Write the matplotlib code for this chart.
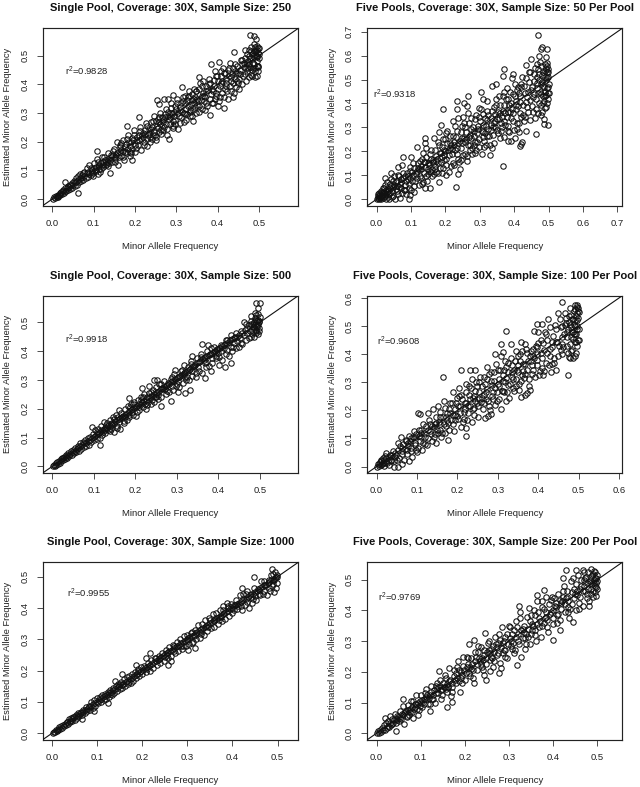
"""Six pooled-sequencing scatter panels: estimated vs true minor allele frequency.

Points are read by eye off the picture. Outliers are placed individually, the dense
bands are estimates of where the cloud sits, not a point-for-point reading.
"""
import matplotlib
matplotlib.use("Agg")
import matplotlib.pyplot as plt

plt.rcParams["font.family"] = ["Liberation Sans", "DejaVu Sans"]
plt.rcParams["mathtext.default"] = "regular"

W, H = 640, 787
TEXT = "#222222"

single_250 = [
    (.479,.571),(.488,.569),(.492,.559),(.440,.511),(.467,.521),(.495,.429),(.491,.424),(.481,.433),(.437,.354),(.440,.368),
    (.415,.319),(.382,.293),(.340,.273),(.254,.346),(.257,.331),(.271,.350),(.280,.347),(.292,.362),(.313,.389),(.355,.427),
    (.384,.470),(.404,.476),(.430,.475),(.209,.285),(.182,.253),(.109,.168),(.139,.092),(.062,.020),(.031,.060),(.282,.208),
    (.252,.206),(.192,.136),(.003,.002),(.005,.008),(.007,.003),(.009,.012),(.011,.006),(.013,.015),(.015,.009),(.018,.020),
    (.020,.013),(.022,.026),(.024,.017),(.027,.031),(.029,.022),(.032,.037),(.034,.027),(.037,.044),(.039,.031),(.042,.050),
    (.044,.035),(.047,.056),(.049,.040),(.052,.063),(.054,.047),(.057,.072),(.059,.050),(.062,.080),(.065,.058),(.067,.088),
    (.070,.062),(.073,.083),(.075,.068),(.078,.095),(.081,.072),(.084,.108),(.087,.078),(.090,.118),(.093,.085),(.096,.102),
    (.099,.092),(.102,.125),(.105,.097),(.108,.140),(.111,.088),(.114,.120),(.117,.105),(.120,.148),(.124,.112),(.128,.135),
    (.131,.118),(.135,.160),(.138,.125),(.142,.148),(.145,.130),(.149,.175),(.152,.138),(.156,.200),(.159,.120),(.163,.165),
    (.166,.150),(.170,.205),(.173,.135),(.177,.180),(.180,.160),(.184,.225),(.187,.150),(.191,.200),(.194,.175),(.198,.240),
    (.201,.165),(.205,.215),(.208,.190),(.212,.250),(.215,.170),(.219,.230),(.222,.200),(.226,.265),(.229,.185),(.233,.245),
    (.236,.215),(.240,.270),(.243,.225),(.247,.290),(.250,.215),(.253,.255),(.257,.235),(.260,.300),(.263,.240),(.267,.275),
    (.270,.250),(.274,.315),(.277,.225),(.281,.290),(.284,.260),(.288,.335),(.291,.255),(.295,.305),(.298,.275),(.302,.350),
    (.305,.245),(.309,.320),(.312,.285),(.316,.340),(.319,.270),(.323,.315),(.326,.295),(.330,.375),(.333,.290),(.337,.345),
    (.340,.310),(.344,.385),(.347,.300),(.351,.350),(.354,.325),(.358,.405),(.361,.315),(.365,.370),(.368,.340),(.372,.395),
    (.375,.325),(.379,.420),(.382,.350),(.386,.385),(.389,.335),(.393,.445),(.396,.360),(.400,.410),(.403,.340),(.407,.430),
    (.410,.370),(.414,.455),(.417,.385),(.421,.420),(.424,.350),(.428,.455),(.431,.395),(.435,.435),(.438,.405),(.442,.470),
    (.445,.390),(.449,.440),(.452,.420),(.456,.485),(.459,.400),(.463,.460),(.466,.435),(.470,.505),(.472,.445),(.475,.470),
    (.477,.425),(.480,.530),(.482,.450),(.484,.490),(.486,.510),(.488,.470),(.490,.530),(.491,.455),(.492,.500),(.494,.520),
    (.495,.480),(.496,.535),(.497,.445),(.498,.510),(.499,.490),(.500,.525),(.497,.465),(.493,.515),(.487,.540),(.483,.505),
]
single_250_band = [
    (.041,.043),(.055,.058),(.063,.066),(.069,.074),(.077,.079),(.083,.092),(.089,.087),(.095,.094),(.101,.108),(.106,.112),
    (.112,.106),(.118,.127),(.123,.120),(.129,.122),(.134,.141),(.140,.136),(.146,.155),(.151,.147),(.157,.162),(.161,.145),
    (.167,.172),(.172,.166),(.178,.192),(.183,.175),(.189,.185),(.193,.212),(.199,.190),(.204,.202),(.209,.225),(.214,.208),
    (.220,.215),(.225,.240),(.231,.222),(.235,.232),(.241,.252),(.246,.235),(.251,.272),(.255,.248),(.261,.262),(.265,.285),
    (.269,.268),(.275,.260),(.279,.305),(.283,.278),(.289,.295),(.293,.272),(.297,.325),(.303,.300),(.307,.288),(.311,.335),
    (.315,.305),(.321,.295),(.325,.345),(.329,.325),(.334,.312),(.338,.365),(.343,.335),(.346,.355),(.350,.328),(.355,.385),
    (.359,.345),(.363,.395),(.367,.360),(.371,.335),(.376,.380),(.381,.405),(.385,.365),(.390,.395),(.394,.350),(.398,.430),
    (.402,.385),(.406,.355),(.411,.410),(.415,.440),(.419,.395),(.423,.375),(.427,.430),(.432,.410),(.436,.455),(.441,.420),
    (.446,.465),(.450,.405),(.454,.450),(.458,.470),(.461,.430),(.465,.490),(.469,.455),(.473,.480),(.476,.500),(.479,.460),
    (.481,.515),(.485,.475),(.489,.495),(.491,.515),(.494,.465),(.496,.500),(.498,.525),(.500,.505),(.348,.375),(.335,.330),
    (.328,.355),(.318,.300),(.300,.315),(.286,.300),(.272,.285),(.258,.270),(.238,.245),(.224,.228),(.210,.205),(.196,.205),
    (.175,.165),(.165,.180),(.155,.155),(.143,.155),(.133,.130),(.122,.128),(.113,.115),(.103,.100),(.094,.110),(.086,.095),
    (.074,.090),(.066,.075),(.058,.061),(.051,.050),(.046,.048),(.036,.038),(.030,.029),(.025,.028),(.019,.017),(.014,.012),
    (.392,.415),(.408,.405),(.418,.440),(.433,.425),(.444,.440),(.455,.435),(.464,.475),(.474,.455),(.478,.490),(.486,.455),
    (.405,.395),(.388,.375),(.373,.375),(.362,.360),(.352,.340),(.342,.350),(.332,.305),(.322,.335),(.310,.310),(.294,.290),
]
single_250_gaps = [
    (.098,.082),(.110,.128),(.116,.095),(.126,.145),(.136,.115),(.147,.168),(.153,.128),(.164,.188),(.171,.148),(.181,.208),
    (.188,.165),(.197,.225),(.203,.178),(.213,.238),(.221,.188),(.228,.255),(.237,.198),(.244,.272),(.249,.222),(.259,.285),
    (.264,.228),(.273,.298),(.278,.245),(.287,.318),(.292,.248),(.301,.335),(.308,.265),(.317,.355),(.324,.275),(.331,.360),
    (.339,.288),(.347,.378),(.356,.305),(.364,.410),(.370,.312),(.378,.402),(.387,.335),(.395,.430),(.401,.325),(.409,.445),
    (.416,.355),(.425,.450),(.433,.375),(.443,.445),(.451,.385),(.460,.485),(.468,.410),(.476,.520),(.483,.430),(.489,.515),
    (.166,.195),(.191,.160),(.216,.225),(.242,.210),(.268,.240),(.296,.260),(.320,.360),(.345,.320),(.369,.355),(.397,.370),
    (.420,.405),(.447,.410),(.471,.470),(.490,.445),(.498,.460),(.494,.495),(.185,.200),(.230,.210),(.256,.280),(.285,.285),
]

five_50 = [
    (.470,.685),(.480,.636),(.477,.628),(.495,.628),(.473,.600),(.491,.594),(.369,.546),(.367,.514),(.397,.523),(.367,.139),
    (.232,.053),(.462,.271),(.486,.316),(.499,.312),(.486,.335),(.460,.338),(.419,.230),(.418,.221),(.423,.239),(.382,.245),
    (.392,.245),(.402,.256),(.415,.281),(.434,.283),(.234,.412),(.234,.377),(.192,.377),(.187,.312),(.266,.430),(.254,.401),
    (.262,.390),(.304,.450),(.310,.420),(.336,.475),(.347,.483),(.141,.257),(.078,.177),(.100,.177),(.024,.088),(.042,.111),
    (.061,.135),(.075,.142),(.097,.019),(.095,.001),(.140,.045),(.154,.047),(.180,.072),(.237,.107),(.203,.103),(.002,.000),
    (.004,.012),(.006,.000),(.008,.025),(.010,.004),(.012,.035),(.014,.000),(.016,.018),(.018,.045),(.020,.005),(.022,.030),
    (.024,.058),(.026,.000),(.028,.022),(.030,.070),(.032,.010),(.034,.042),(.036,.002),(.038,.062),(.040,.025),(.043,.085),
    (.046,.008),(.048,.050),(.050,.095),(.053,.000),(.056,.070),(.059,.035),(.062,.100),(.065,.050),(.068,.005),(.071,.085),
    (.074,.028),(.078,.110),(.082,.060),(.086,.022),(.090,.095),(.094,.045),(.098,.120),(.102,.075),(.106,.150),(.110,.030),
    (.114,.105),(.118,.220),(.122,.060),(.126,.160),(.130,.090),(.134,.195),(.138,.110),(.142,.235),(.146,.075),(.150,.150),
    (.154,.120),(.158,.205),(.162,.095),(.166,.255),(.170,.140),(.174,.180),(.178,.110),(.182,.280),(.186,.155),(.190,.220),
    (.194,.130),(.198,.250),(.202,.170),(.206,.285),(.210,.115),(.214,.235),(.218,.190),(.222,.325),(.226,.145),(.230,.260),
    (.234,.215),(.238,.340),(.242,.125),(.246,.280),(.250,.185),(.254,.320),(.258,.240),(.262,.160),(.266,.360),(.270,.225),
    (.274,.295),(.278,.190),(.282,.265),(.286,.335),(.290,.205),(.294,.305),(.298,.250),(.302,.375),(.306,.190),(.310,.280),
    (.314,.340),(.318,.225),(.322,.410),(.326,.265),(.330,.185),(.334,.370),(.338,.300),(.342,.235),(.346,.420),(.350,.335),
    (.354,.275),(.358,.395),(.362,.320),(.366,.430),(.370,.260),(.374,.360),(.378,.465),(.382,.305),(.386,.395),(.390,.340),
    (.394,.505),(.398,.290),(.402,.430),(.406,.375),(.410,.470),(.414,.320),(.418,.405),(.422,.510),(.426,.350),(.430,.445),
    (.434,.560),(.438,.385),(.442,.490),(.446,.330),(.450,.585),(.454,.425),(.458,.525),(.462,.375),(.465,.465),(.468,.545),
    (.471,.400),(.473,.500),(.476,.575),(.478,.440),(.480,.365),(.482,.520),(.484,.475),(.486,.410),(.488,.565),(.490,.450),
    (.491,.500),(.492,.385),(.494,.530),(.495,.465),(.496,.570),(.497,.420),(.498,.510),(.499,.445),(.500,.480),(.497,.545),
]
five_50_band = [
    (.007,.015),(.011,.022),(.015,.008),(.019,.028),(.023,.012),(.027,.040),(.031,.030),(.035,.020),(.039,.048),(.044,.035),
    (.047,.015),(.051,.060),(.055,.042),(.060,.075),(.063,.022),(.067,.062),(.072,.048),(.076,.090),(.080,.038),(.085,.075),
    (.089,.110),(.093,.065),(.097,.088),(.101,.040),(.105,.100),(.109,.130),(.113,.078),(.117,.118),(.121,.150),(.125,.095),
    (.129,.125),(.133,.065),(.137,.155),(.141,.135),(.145,.175),(.149,.105),(.153,.145),(.157,.170),(.161,.125),(.165,.155),
    (.169,.205),(.173,.115),(.177,.150),(.181,.225),(.185,.130),(.189,.175),(.193,.250),(.197,.205),(.201,.145),(.205,.235),
    (.209,.185),(.213,.265),(.217,.225),(.221,.150),(.225,.240),(.229,.205),(.233,.285),(.237,.170),(.241,.245),(.245,.215),
    (.249,.305),(.253,.255),(.257,.190),(.261,.280),(.265,.225),(.269,.320),(.273,.255),(.277,.215),(.281,.300),(.285,.240),
    (.289,.350),(.293,.275),(.297,.220),(.301,.325),(.305,.285),(.309,.355),(.313,.245),(.317,.305),(.321,.370),(.325,.295),
    (.329,.225),(.333,.340),(.337,.270),(.341,.385),(.345,.325),(.349,.290),(.353,.365),(.357,.430),(.361,.285),(.365,.345),
    (.369,.395),(.373,.310),(.377,.420),(.381,.365),(.385,.280),(.389,.450),(.393,.375),(.397,.325),(.401,.480),(.405,.410),
    (.409,.295),(.413,.445),(.417,.360),(.421,.470),(.425,.395),(.429,.325),(.433,.505),(.437,.425),(.441,.365),(.445,.530),
    (.449,.455),(.453,.390),(.457,.495),(.461,.550),(.464,.420),(.467,.485),(.470,.360),(.472,.525),(.475,.450),(.477,.395),
    (.479,.555),(.481,.490),(.483,.430),(.485,.530),(.487,.470),(.489,.380),(.491,.545),(.493,.435),(.495,.505),(.496,.400),
    (.498,.470),(.499,.530),(.500,.445),(.489,.510),(.478,.480),(.466,.510),(.452,.470),(.440,.450),(.428,.475),(.416,.430),
    (.404,.395),(.392,.400),(.380,.345),(.368,.370),(.356,.335),(.344,.355),(.332,.310),(.320,.330),(.308,.310),(.296,.295),
    (.284,.285),(.272,.270),(.260,.250),(.248,.255),(.236,.235),(.224,.225),(.212,.215),(.200,.200),(.188,.195),(.176,.170),
    (.164,.165),(.152,.150),(.140,.155),(.128,.140),(.116,.090),(.104,.115),(.092,.085),(.084,.095),(.070,.070),(.058,.055),
    (.049,.075),(.041,.055),(.033,.035),(.025,.025),(.017,.032),(.013,.012),(.009,.010),(.005,.005),(.003,.020),(.021,.048),
]
five_50_gaps = [
    (.066,.095),(.083,.040),(.096,.135),(.108,.055),(.120,.130),(.131,.170),(.143,.095),(.155,.190),(.167,.105),(.179,.240),
    (.191,.110),(.203,.275),(.215,.140),(.227,.305),(.239,.155),(.251,.345),(.263,.180),(.275,.340),(.287,.195),(.299,.380),
    (.311,.220),(.323,.350),(.335,.215),(.347,.395),(.359,.255),(.371,.450),(.383,.285),(.395,.440),(.407,.320),(.419,.480),
    (.431,.345),(.443,.530),(.455,.365),(.467,.565),(.479,.350),(.488,.535),(.145,.215),(.170,.125),(.197,.165),(.222,.265),
    (.247,.235),(.272,.205),(.297,.345),(.322,.265),(.345,.300),(.370,.325),(.395,.360),(.420,.345),(.445,.415),(.470,.445),
    (.488,.430),(.158,.115),(.183,.195),(.208,.205),(.233,.190),(.258,.300),(.283,.225),(.308,.260),(.333,.290),(.358,.360),
    (.383,.420),(.408,.455),(.433,.405),(.458,.440),(.483,.400),(.494,.555),(.124,.125),(.136,.070),(.148,.125),(.172,.160),
    (.196,.185),(.220,.210),(.244,.165),(.268,.260),(.292,.240),(.316,.275),(.340,.320),(.364,.300),(.388,.365),(.412,.390),
]

single_500 = [
    (.490,.568),(.500,.566),(.497,.551),(.489,.534),(.478,.524),(.431,.358),(.416,.347),(.403,.351),(.383,.332),(.369,.308),
    (.332,.264),(.320,.255),(.304,.257),(.286,.227),(.261,.211),(.246,.299),(.253,.300),(.232,.278),(.216,.271),(.185,.237),
    (.096,.137),(.114,.074),(.376,.422),(.360,.424),(.338,.382),(.318,.351),(.296,.336),(.002,.002),(.004,.006),(.006,.002),
    (.008,.011),(.010,.006),(.012,.015),(.014,.010),(.016,.020),(.018,.013),(.020,.026),(.022,.017),(.024,.030),(.026,.021),
    (.029,.034),(.031,.025),(.034,.041),(.036,.030),(.039,.046),(.041,.035),(.044,.052),(.047,.040),(.050,.058),(.052,.045),
    (.055,.063),(.058,.050),(.061,.072),(.064,.055),(.067,.080),(.070,.062),(.073,.085),(.076,.068),(.079,.092),(.082,.072),
    (.085,.100),(.088,.076),(.091,.103),(.094,.085),(.098,.112),(.101,.090),(.104,.125),(.107,.095),(.110,.130),(.114,.100),
    (.118,.142),(.121,.108),(.125,.155),(.128,.115),(.132,.150),(.135,.125),(.139,.160),(.142,.130),(.146,.170),(.150,.118),
    (.153,.180),(.157,.140),(.161,.195),(.164,.130),(.168,.170),(.172,.150),(.176,.200),(.179,.160),(.183,.210),(.186,.170),
    (.190,.215),(.194,.180),(.198,.225),(.202,.175),(.206,.230),(.210,.195),(.214,.240),(.218,.205),(.222,.250),(.226,.200),
    (.230,.225),(.234,.255),(.238,.215),(.242,.265),(.246,.225),(.250,.275),(.254,.235),(.258,.285),(.262,.240),(.266,.270),
    (.270,.295),(.274,.250),(.278,.290),(.282,.260),(.286,.305),(.290,.265),(.294,.320),(.298,.280),(.302,.310),(.306,.275),
    (.310,.330),(.314,.290),(.318,.320),(.322,.300),(.326,.345),(.330,.300),(.334,.365),(.338,.315),(.342,.350),(.346,.310),
    (.350,.375),(.354,.330),(.358,.390),(.362,.325),(.366,.370),(.370,.345),(.374,.400),(.378,.350),(.382,.390),(.386,.360),
    (.390,.415),(.394,.375),(.398,.405),(.402,.380),(.406,.420),(.410,.370),(.414,.410),(.418,.390),(.422,.440),(.426,.385),
    (.430,.455),(.434,.400),(.438,.430),(.442,.410),(.446,.450),(.450,.415),(.454,.470),(.458,.425),(.462,.500),(.466,.440),
    (.470,.480),(.474,.445),(.478,.505),(.481,.460),(.484,.495),(.486,.450),(.488,.515),(.490,.475),(.492,.525),(.493,.490),
    (.495,.460),(.496,.510),(.497,.530),(.498,.480),(.499,.500),(.500,.520),(.494,.505),(.491,.465),(.487,.485),(.483,.470),
]
single_500_band = [
    (.027,.028),(.033,.034),(.038,.039),(.043,.043),(.049,.050),(.054,.055),(.059,.060),(.063,.064),(.068,.070),(.072,.074),
    (.077,.080),(.081,.082),(.086,.088),(.090,.092),(.095,.097),(.100,.102),(.103,.106),(.108,.112),(.112,.117),(.116,.120),
    (.120,.125),(.124,.130),(.127,.132),(.131,.135),(.134,.140),(.138,.142),(.141,.148),(.145,.150),(.149,.152),(.152,.158),
    (.156,.162),(.160,.165),(.163,.168),(.167,.172),(.171,.176),(.175,.178),(.178,.182),(.182,.186),(.185,.192),(.189,.195),
    (.193,.198),(.197,.202),(.201,.205),(.205,.210),(.209,.215),(.213,.218),(.217,.222),(.221,.226),(.225,.230),(.229,.240),
    (.233,.236),(.237,.245),(.241,.245),(.245,.250),(.249,.255),(.253,.258),(.257,.262),(.261,.268),(.265,.272),(.269,.275),
    (.273,.280),(.277,.282),(.281,.285),(.285,.292),(.289,.295),(.293,.298),(.297,.302),(.301,.306),(.305,.312),(.309,.314),
    (.313,.318),(.317,.325),(.321,.328),(.325,.330),(.329,.335),(.333,.340),(.337,.345),(.341,.350),(.345,.352),(.349,.358),
    (.353,.362),(.357,.365),(.361,.372),(.365,.375),(.369,.380),(.373,.382),(.377,.388),(.381,.392),(.385,.395),(.389,.398),
    (.393,.402),(.397,.408),(.401,.410),(.405,.412),(.409,.418),(.413,.422),(.417,.426),(.421,.430),(.425,.432),(.429,.438),
    (.433,.442),(.437,.446),(.441,.450),(.445,.435),(.449,.455),(.453,.445),(.457,.465),(.461,.455),(.465,.475),(.469,.465),
    (.473,.490),(.477,.470),(.480,.495),(.483,.485),(.486,.500),(.489,.490),(.492,.470),(.494,.485),(.496,.495),(.498,.505),
    (.436,.415),(.420,.405),(.400,.395),(.384,.375),(.368,.358),(.352,.345),(.336,.330),(.320,.312),(.304,.298),(.288,.280),
    (.272,.268),(.256,.248),(.240,.232),(.224,.218),(.208,.205),(.192,.190),(.176,.172),(.160,.155),(.144,.145),(.128,.125),
]
single_500_gaps = [
    (.109,.120),(.122,.118),(.130,.145),(.140,.122),(.148,.165),(.155,.132),(.166,.185),(.174,.158),(.184,.178),(.195,.215),
    (.204,.190),(.215,.232),(.228,.212),(.239,.258),(.251,.240),(.263,.285),(.276,.262),(.288,.310),(.300,.285),(.312,.335),
    (.324,.310),(.335,.355),(.347,.325),(.359,.380),(.371,.362),(.383,.410),(.395,.385),(.407,.400),(.419,.440),(.431,.415),
    (.443,.465),(.455,.430),(.467,.495),(.479,.450),(.491,.510),(.499,.470),(.158,.172),(.188,.205),(.219,.240),(.247,.240),
]

five_100 = [
    (.460,.585),(.320,.482),(.164,.319),(.474,.325),(.221,.108),(.220,.136),(.235,.157),(.309,.205),(.283,.188),(.268,.174),
    (.275,.179),(.320,.232),(.357,.246),(.367,.254),(.373,.262),(.380,.271),(.353,.271),(.209,.342),(.232,.342),(.243,.342),
    (.308,.436),(.333,.436),(.358,.442),(.293,.402),(.312,.408),(.397,.506),(.409,.506),(.389,.482),(.400,.479),(.486,.385),
    (.493,.405),(.478,.385),(.102,.192),(.107,.188),(.054,-.002),(.043,-.002),(.062,.010),(.079,.021),(.491,.575),(.496,.569),
    (.500,.551),(.478,.563),(.002,.000),(.004,.008),(.006,.002),(.008,.015),(.010,.004),(.012,.022),(.014,.008),(.016,.030),
    (.018,.002),(.020,.038),(.022,.014),(.024,.048),(.027,.020),(.030,.006),(.033,.040),(.036,.025),(.040,.055),(.044,.018),
    (.048,.040),(.052,.085),(.056,.030),(.060,.105),(.064,.055),(.068,.025),(.072,.090),(.076,.045),(.080,.110),(.084,.065),
    (.088,.035),(.092,.125),(.096,.075),(.100,.050),(.104,.130),(.108,.090),(.112,.060),(.116,.150),(.120,.105),(.124,.075),
    (.128,.190),(.132,.125),(.136,.090),(.140,.205),(.144,.150),(.148,.085),(.152,.215),(.156,.130),(.160,.105),(.164,.175),
    (.168,.235),(.172,.145),(.176,.095),(.180,.205),(.184,.165),(.188,.265),(.192,.125),(.196,.225),(.200,.180),(.204,.280),
    (.208,.140),(.212,.240),(.216,.195),(.220,.295),(.224,.165),(.228,.255),(.232,.215),(.236,.310),(.240,.185),(.244,.270),
    (.248,.225),(.252,.175),(.256,.320),(.260,.245),(.264,.205),(.268,.295),(.272,.355),(.276,.235),(.280,.200),(.284,.335),
    (.288,.265),(.292,.220),(.296,.365),(.300,.295),(.304,.240),(.308,.395),(.312,.325),(.316,.265),(.320,.355),(.324,.290),
    (.328,.245),(.332,.385),(.336,.320),(.340,.270),(.344,.410),(.348,.345),(.352,.295),(.356,.375),(.360,.410),(.364,.315),
    (.368,.435),(.372,.345),(.376,.285),(.380,.395),(.384,.360),(.388,.420),(.392,.320),(.396,.380),(.400,.440),(.404,.340),
    (.408,.405),(.412,.325),(.416,.480),(.420,.370),(.424,.525),(.428,.420),(.432,.335),(.436,.465),(.440,.385),(.444,.345),
    (.448,.545),(.452,.430),(.456,.495),(.460,.400),(.464,.470),(.468,.530),(.472,.430),(.475,.390),(.478,.505),(.480,.460),
    (.482,.540),(.484,.415),(.486,.480),(.488,.555),(.490,.445),(.491,.520),(.492,.395),(.493,.470),(.495,.545),(.496,.430),
    (.497,.500),(.498,.450),(.499,.565),(.500,.490),(.494,.535),(.489,.505),(.483,.480),(.477,.515),(.471,.460),(.466,.505),
]
five_100_band = [
    (.007,.010),(.011,.018),(.015,.012),(.019,.025),(.023,.030),(.026,.012),(.031,.035),(.035,.018),(.039,.042),(.045,.048),
    (.050,.025),(.054,.060),(.058,.072),(.062,.045),(.066,.080),(.070,.062),(.074,.095),(.078,.072),(.082,.090),(.086,.055),
    (.090,.105),(.094,.085),(.098,.115),(.102,.065),(.106,.110),(.110,.130),(.114,.085),(.118,.120),(.122,.145),(.126,.100),
    (.130,.165),(.134,.115),(.138,.145),(.142,.105),(.146,.175),(.150,.130),(.154,.160),(.158,.195),(.162,.120),(.166,.150),
    (.170,.210),(.174,.165),(.178,.130),(.182,.190),(.186,.225),(.190,.150),(.194,.205),(.198,.245),(.202,.170),(.206,.215),
    (.210,.255),(.214,.160),(.218,.225),(.222,.265),(.226,.190),(.230,.240),(.234,.280),(.238,.205),(.242,.250),(.246,.300),
    (.250,.215),(.254,.265),(.258,.230),(.262,.285),(.266,.320),(.270,.240),(.274,.275),(.278,.215),(.282,.305),(.286,.250),
    (.290,.335),(.294,.280),(.298,.235),(.302,.310),(.306,.345),(.310,.270),(.314,.305),(.318,.375),(.322,.265),(.326,.335),
    (.330,.295),(.334,.360),(.338,.310),(.342,.375),(.346,.285),(.350,.335),(.354,.400),(.358,.305),(.362,.365),(.366,.330),
    (.370,.420),(.374,.375),(.378,.310),(.382,.410),(.386,.345),(.390,.385),(.394,.430),(.398,.360),(.402,.325),(.406,.450),
    (.410,.385),(.414,.340),(.418,.470),(.422,.405),(.426,.360),(.430,.495),(.434,.425),(.438,.370),(.442,.505),(.446,.445),
    (.450,.395),(.454,.525),(.458,.460),(.462,.425),(.466,.545),(.470,.480),(.473,.405),(.476,.535),(.479,.435),(.481,.495),
    (.485,.525),(.487,.455),(.490,.560),(.492,.500),(.494,.445),(.495,.575),(.497,.520),(.498,.555),(.499,.530),(.500,.450),
    (.496,.490),(.488,.470),(.474,.490),(.458,.435),(.444,.445),(.428,.395),(.414,.415),(.398,.400),(.382,.375),(.366,.365),
    (.350,.360),(.334,.335),(.318,.300),(.302,.285),(.286,.290),(.270,.265),(.254,.240),(.238,.245),(.222,.225),(.206,.190),
    (.190,.185),(.174,.190),(.158,.150),(.142,.140),(.126,.130),(.110,.105),(.094,.105),(.078,.085),(.062,.065),(.046,.035),
]
five_100_gaps = [
    (.075,.060),(.085,.100),(.097,.060),(.109,.120),(.121,.080),(.133,.150),(.145,.115),(.157,.175),(.169,.120),(.181,.225),
    (.193,.165),(.205,.250),(.217,.170),(.229,.285),(.241,.210),(.253,.300),(.265,.225),(.277,.330),(.289,.240),(.301,.345),
    (.313,.270),(.325,.370),(.337,.280),(.349,.395),(.361,.325),(.373,.405),(.385,.330),(.397,.425),(.409,.350),(.421,.450),
    (.433,.365),(.445,.490),(.457,.415),(.469,.510),(.481,.410),(.491,.470),(.147,.155),(.171,.175),(.195,.185),(.219,.205),
    (.243,.235),(.267,.255),(.291,.305),(.315,.345),(.339,.345),(.363,.340),(.387,.395),(.411,.440),(.435,.445),(.459,.500),
    (.483,.525),(.153,.120),(.177,.155),(.201,.215),(.225,.215),(.249,.285),(.273,.310),(.297,.265),(.321,.315),(.345,.310),
]

single_1000 = [
    (.488,.524),(.448,.498),(.421,.463),(.317,.271),(.310,.287),(.301,.266),(.264,.229),(.257,.218),(.216,.255),(.208,.239),
    (.185,.218),(.155,.188),(.140,.167),(.092,.070),(.123,.096),(.067,.045),(.002,.001),(.004,.005),(.006,.003),(.008,.009),
    (.010,.006),(.012,.013),(.014,.010),(.016,.018),(.018,.014),(.020,.022),(.022,.017),(.024,.027),(.026,.022),(.028,.030),
    (.031,.026),(.033,.037),(.035,.030),(.037,.045),(.040,.034),(.042,.048),(.045,.040),(.047,.052),(.050,.043),(.052,.057),
    (.055,.049),(.058,.064),(.060,.054),(.063,.068),(.066,.058),(.069,.074),(.072,.065),(.075,.085),(.078,.070),(.081,.088),
    (.084,.075),(.087,.098),(.090,.080),(.093,.105),(.096,.088),(.099,.112),(.102,.095),(.105,.115),(.108,.100),(.111,.122),
    (.114,.105),(.117,.125),(.120,.110),(.123,.130),(.126,.115),(.129,.138),(.132,.122),(.135,.145),(.138,.128),(.141,.150),
    (.144,.135),(.147,.158),(.150,.140),(.153,.165),(.156,.145),(.159,.172),(.162,.150),(.165,.178),(.168,.158),(.171,.182),
    (.174,.160),(.177,.190),(.180,.168),(.183,.195),(.186,.175),(.190,.205),(.193,.182),(.197,.210),(.200,.188),(.204,.215),
    (.208,.195),(.212,.225),(.216,.200),(.220,.235),(.224,.208),(.228,.240),(.232,.218),(.236,.248),(.240,.225),(.244,.255),
    (.248,.232),(.252,.265),(.256,.240),(.260,.275),(.264,.248),(.268,.282),(.272,.255),(.276,.290),(.280,.262),(.284,.300),
    (.288,.268),(.292,.310),(.296,.278),(.300,.315),(.304,.285),(.308,.320),(.312,.292),(.316,.330),(.320,.300),(.324,.345),
    (.328,.305),(.332,.350),(.336,.315),(.340,.360),(.344,.325),(.348,.368),(.352,.335),(.356,.380),(.360,.340),(.364,.385),
    (.368,.350),(.372,.395),(.376,.358),(.380,.405),(.384,.365),(.388,.415),(.392,.375),(.396,.412),(.400,.385),(.404,.395),
    (.408,.425),(.412,.405),(.416,.440),(.420,.395),(.424,.445),(.428,.410),(.432,.455),(.436,.400),(.440,.435),(.444,.415),
    (.448,.465),(.452,.425),(.456,.460),(.460,.440),(.464,.485),(.468,.445),(.472,.475),(.476,.440),(.480,.490),(.483,.455),
    (.486,.505),(.488,.470),(.490,.510),(.492,.450),(.493,.490),(.495,.515),(.496,.465),(.497,.500),(.498,.480),(.499,.505),
]
single_1000_band = [
    (.034,.035),(.039,.040),(.044,.045),(.049,.050),(.054,.055),(.059,.060),(.064,.064),(.068,.069),(.073,.074),(.077,.078),
    (.082,.082),(.086,.087),(.091,.092),(.095,.096),(.100,.101),(.104,.105),(.109,.110),(.113,.114),(.118,.118),(.122,.122),
    (.127,.128),(.131,.132),(.136,.137),(.140,.140),(.145,.146),(.149,.150),(.154,.155),(.158,.158),(.163,.164),(.167,.168),
    (.172,.172),(.176,.177),(.181,.182),(.185,.186),(.189,.190),(.194,.195),(.198,.198),(.202,.203),(.206,.207),(.210,.211),
    (.214,.215),(.218,.218),(.222,.222),(.226,.227),(.230,.231),(.234,.235),(.238,.238),(.242,.243),(.246,.246),(.250,.252),
    (.254,.255),(.258,.258),(.262,.263),(.266,.267),(.270,.271),(.274,.274),(.278,.280),(.282,.283),(.286,.287),(.290,.290),
    (.294,.295),(.298,.299),(.302,.303),(.306,.307),(.310,.312),(.314,.315),(.318,.319),(.322,.322),(.326,.328),(.330,.332),
    (.334,.335),(.338,.338),(.342,.344),(.346,.347),(.350,.352),(.354,.355),(.358,.358),(.362,.364),(.366,.368),(.370,.371),
    (.374,.375),(.378,.380),(.382,.384),(.386,.388),(.390,.390),(.394,.396),(.398,.400),(.402,.405),(.406,.408),(.410,.412),
    (.414,.416),(.418,.420),(.422,.424),(.426,.428),(.430,.430),(.434,.436),(.438,.440),(.442,.445),(.446,.445),(.450,.450),
    (.454,.455),(.458,.458),(.462,.465),(.466,.468),(.470,.472),(.474,.474),(.478,.480),(.482,.482),(.486,.488),(.490,.490),
    (.494,.495),(.498,.498),(.480,.465),(.470,.455),(.458,.445),(.445,.430),(.432,.420),(.418,.405),(.405,.410),(.390,.400),
    (.375,.372),(.360,.360),(.345,.340),(.330,.322),(.315,.310),(.300,.300),(.285,.280),(.270,.262),(.255,.250),(.240,.240),
]
single_1000_gaps = [
    (.130,.125),(.150,.158),(.170,.165),(.190,.198),(.210,.204),(.230,.240),(.250,.243),(.270,.280),(.290,.280),(.310,.322),
    (.330,.318),(.350,.362),(.370,.360),(.390,.405),(.410,.398),(.430,.445),(.450,.438),(.470,.485),(.490,.478),(.378,.392),
]

five_200 = [
    (.430,.533),(.452,.533),(.468,.533),(.487,.536),(.423,.505),(.379,.466),(.363,.450),(.323,.416),(.345,.408),(.400,.303),
    (.319,.224),(.283,.212),(.277,.196),(.258,.203),(.247,.174),(.244,.190),(.245,.326),(.221,.304),(.210,.290),(.142,.204),
    (.165,.212),(.159,.087),(.172,.101),(.121,.073),(.059,.111),(.044,.007),(.019,.049),(.446,.364),(.415,.337),(.498,.446),
    (.002,.001),(.004,.007),(.006,.002),(.008,.012),(.010,.005),(.012,.018),(.014,.009),(.016,.026),(.018,.012),(.021,.032),
    (.023,.016),(.025,.040),(.028,.021),(.030,.055),(.033,.027),(.035,.045),(.038,.032),(.041,.062),(.044,.035),(.047,.055),
    (.050,.040),(.053,.072),(.056,.047),(.059,.088),(.062,.030),(.065,.068),(.068,.052),(.071,.092),(.074,.060),(.077,.105),
    (.080,.070),(.083,.050),(.086,.095),(.089,.125),(.092,.078),(.095,.060),(.098,.105),(.101,.125),(.104,.085),(.108,.110),
    (.112,.145),(.116,.095),(.120,.125),(.124,.155),(.128,.110),(.132,.100),(.136,.165),(.140,.130),(.144,.175),(.148,.125),
    (.152,.150),(.156,.190),(.160,.135),(.164,.170),(.168,.120),(.172,.150),(.176,.205),(.180,.165),(.184,.235),(.188,.135),
    (.192,.200),(.196,.250),(.200,.175),(.204,.215),(.208,.245),(.212,.185),(.216,.225),(.220,.165),(.224,.265),(.228,.205),
    (.232,.245),(.236,.280),(.240,.215),(.244,.255),(.248,.225),(.252,.295),(.256,.240),(.260,.275),(.264,.215),(.268,.315),
    (.272,.255),(.276,.295),(.280,.230),(.284,.345),(.288,.270),(.292,.315),(.296,.245),(.300,.350),(.304,.285),(.308,.325),
    (.312,.260),(.316,.365),(.320,.300),(.324,.395),(.328,.250),(.332,.340),(.336,.275),(.340,.380),(.344,.315),(.348,.290),
    (.352,.355),(.356,.400),(.360,.320),(.364,.430),(.368,.345),(.372,.315),(.376,.410),(.380,.360),(.384,.445),(.388,.330),
    (.392,.390),(.396,.435),(.400,.355),(.404,.415),(.408,.385),(.412,.455),(.416,.370),(.420,.430),(.424,.480),(.428,.395),
    (.432,.445),(.436,.375),(.440,.495),(.444,.420),(.448,.470),(.452,.400),(.456,.515),(.460,.445),(.464,.480),(.468,.415),
    (.472,.505),(.476,.455),(.480,.525),(.482,.430),(.484,.490),(.486,.470),(.488,.515),(.490,.445),(.492,.500),(.494,.480),
    (.495,.525),(.496,.460),(.497,.505),(.498,.490),(.499,.470),(.500,.515),(.493,.530),(.485,.510),(.478,.440),(.470,.525),
]
five_200_band = [
    (.026,.025),(.031,.032),(.036,.030),(.040,.042),(.045,.048),(.049,.052),(.054,.050),(.058,.062),(.063,.065),(.067,.072),
    (.072,.075),(.076,.080),(.081,.084),(.085,.080),(.090,.095),(.094,.098),(.099,.088),(.103,.108),(.107,.095),(.111,.118),
    (.115,.125),(.119,.115),(.123,.135),(.127,.125),(.131,.140),(.135,.130),(.139,.150),(.143,.155),(.147,.140),(.151,.165),
    (.155,.150),(.159,.160),(.163,.150),(.167,.175),(.171,.165),(.175,.185),(.179,.195),(.183,.180),(.187,.205),(.191,.180),
    (.195,.220),(.199,.205),(.203,.195),(.207,.225),(.211,.215),(.215,.245),(.219,.205),(.223,.235),(.227,.225),(.231,.265),
    (.235,.235),(.239,.245),(.243,.270),(.247,.245),(.251,.265),(.255,.270),(.259,.250),(.263,.285),(.267,.265),(.271,.290),
    (.275,.260),(.279,.305),(.283,.280),(.287,.295),(.291,.270),(.295,.325),(.299,.290),(.303,.310),(.307,.275),(.311,.335),
    (.315,.315),(.319,.345),(.323,.290),(.327,.335),(.331,.310),(.335,.350),(.339,.325),(.343,.340),(.347,.365),(.351,.325),
    (.355,.350),(.359,.385),(.363,.355),(.367,.395),(.371,.365),(.375,.350),(.379,.405),(.383,.380),(.387,.370),(.391,.420),
    (.395,.395),(.399,.375),(.403,.440),(.407,.410),(.411,.390),(.415,.435),(.419,.405),(.423,.445),(.427,.420),(.431,.465),
    (.435,.430),(.439,.405),(.443,.460),(.447,.440),(.451,.485),(.455,.465),(.459,.425),(.463,.500),(.467,.465),(.471,.480),
    (.475,.510),(.479,.470),(.483,.495),(.487,.455),(.491,.520),(.493,.490),(.495,.505),(.497,.475),(.499,.495),(.489,.485),
    (.473,.465),(.461,.470),(.449,.455),(.433,.410),(.417,.425),(.401,.400),(.385,.395),(.369,.375),(.353,.335),(.337,.310),
    (.321,.325),(.305,.300),(.289,.300),(.273,.280),(.257,.260),(.241,.240),(.225,.250),(.209,.195),(.193,.190),(.177,.175),
    (.161,.150),(.149,.145),(.137,.145),(.125,.110),(.113,.110),(.100,.100),(.088,.085),(.075,.070),(.060,.058),(.047,.044),
]
five_200_gaps = [
    (.070,.055),(.082,.105),(.096,.075),(.110,.130),(.122,.095),(.134,.155),(.146,.110),(.158,.180),(.170,.135),(.182,.215),
    (.194,.165),(.206,.250),(.218,.180),(.230,.285),(.242,.205),(.254,.300),(.266,.235),(.278,.325),(.290,.250),(.302,.345),
    (.314,.270),(.326,.375),(.338,.290),(.350,.385),(.362,.300),(.374,.430),(.386,.345),(.398,.445),(.410,.360),(.422,.465),
    (.434,.395),(.446,.505),(.458,.405),(.470,.500),(.481,.415),(.491,.465),(.157,.145),(.186,.170),(.214,.210),(.237,.225),
    (.262,.245),(.286,.260),(.310,.295),(.334,.330),(.358,.335),(.382,.375),(.406,.425),(.430,.440),(.454,.450),(.478,.490),
]

titles = [
    "Single Pool, Coverage: 30X, Sample Size: 250",
    "Five Pools, Coverage: 30X, Sample Size: 50 Per Pool",
    "Single Pool, Coverage: 30X, Sample Size: 500",
    "Five Pools, Coverage: 30X, Sample Size: 100 Per Pool",
    "Single Pool, Coverage: 30X, Sample Size: 1000",
    "Five Pools, Coverage: 30X, Sample Size: 200 Per Pool",
]
r2_labels = ["0.9828", "0.9318", "0.9918", "0.9608", "0.9955", "0.9769"]
panels = [
    single_250 + single_250_band + single_250_gaps, five_50 + five_50_band + five_50_gaps,
    single_500 + single_500_band + single_500_gaps, five_100 + five_100_band + five_100_gaps,
    single_1000 + single_1000_band + single_1000_gaps, five_200 + five_200_band + five_200_gaps,
]
# box in pixels: left, top, right, bottom
boxes = [
    (42.7, 28.3, 298.3, 205.7), (367.3, 28.3, 622.3, 205.7),
    (42.7, 295.7, 298.3, 473.0), (367.3, 295.7, 622.3, 473.0),
    (42.7, 562.3, 298.3, 739.7), (367.3, 562.3, 622.3, 739.7),
]
limits = [
    (-.023, .595), (-.027, .714),
    (-.023, .593), (-.023, .608),
    (-.021, .546), (-.021, .557),
]
tops = [.5, .7, .5, .6, .5, .5]
r2_pos = [(.031, .444), (-.010, .440), (.031, .443), (.000, .445), (.034, .446), (.004, .443)]

fig = plt.figure(figsize=(W / 100, H / 100), dpi=100)

for i, pts in enumerate(panels):
    l, t, r, b = boxes[i]
    ax = fig.add_axes([l / W, 1 - b / H, (r - l) / W, (b - t) / H])
    lo, hi = limits[i]
    xs, ys = zip(*pts)
    ax.plot(xs, ys, "o", mfc="none", mec="#111111", ms=3.9, mew=0.75, zorder=2)
    ax.plot([lo, hi], [lo, hi], color="#111111", lw=0.8, zorder=3)
    ax.set_xlim(lo, hi)
    ax.set_ylim(lo, hi)
    ticks = [k / 10 for k in range(int(tops[i] * 10) + 1)]
    ax.set_xticks(ticks, [f"{v:.1f}" for v in ticks])
    ax.set_yticks(ticks, [f"{v:.1f}" for v in ticks])
    ax.tick_params(length=4, width=0.6, labelsize=6.8, labelcolor=TEXT, color="#333333", pad=5.5)
    for lab in ax.get_yticklabels():
        lab.set_rotation(90)
        lab.set_va("center")
    for sp in ax.spines.values():
        sp.set_linewidth(0.85)
        sp.set_color("#222222")
    ax.set_title(titles[i], fontsize=8.0, fontweight="bold", pad=12.2, color="#111111")
    ax.set_xlabel("Minor Allele Frequency", fontsize=6.8, color=TEXT, labelpad=10)
    ax.set_ylabel("Estimated Minor Allele Frequency", fontsize=6.7, color=TEXT, labelpad=6)
    ax.text(*r2_pos[i], f"r$^2$={r2_labels[i]}", fontsize=6.8, color=TEXT, ha="left", va="center")

fig.savefig("out.png", dpi=100)
